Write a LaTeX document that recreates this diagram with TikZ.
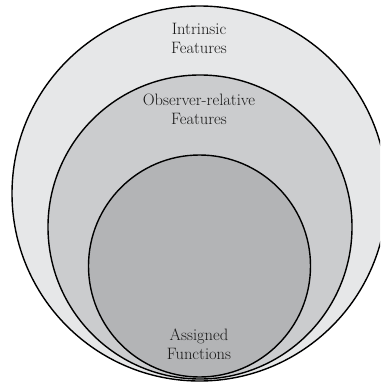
\documentclass[tikz,border=0pt]{standalone}
\usetikzlibrary{positioning}
\definecolor{outerfill}{HTML}{E6E7E8}
\definecolor{midfill}{HTML}{CBCCCE}
\definecolor{innerfill}{HTML}{B3B4B6}
\begin{document}
\begin{tikzpicture}[x=1pt,y=-1pt,
  ring/.style={circle,draw=black,line width=1.4pt,inner sep=0pt},
  lbl/.style={align=center,font=\fontsize{16.5}{19}\selectfont,text=black!90}]
\fill[white] (0,0) rectangle (380,385);
\useasboundingbox (0,0) rectangle (380,385);
\clip (0,0) rectangle (380,385);
\node[ring,fill=outerfill,minimum size=375pt] (outer) at (199.5,193.5) {};
\node[ring,fill=midfill,minimum size=304pt] (mid) at (200,227) {};
\node[ring,fill=innerfill,minimum size=222pt] (inner) at (199.5,266) {};
\node[lbl] (t1) at (199,38) {Intrinsic\\Features};
\node[lbl] (t2) at (199,109) {Observer-relative\\Features};
\node[lbl] (t3) at (199,344) {Assigned\\Functions};
\end{tikzpicture}
\end{document}
